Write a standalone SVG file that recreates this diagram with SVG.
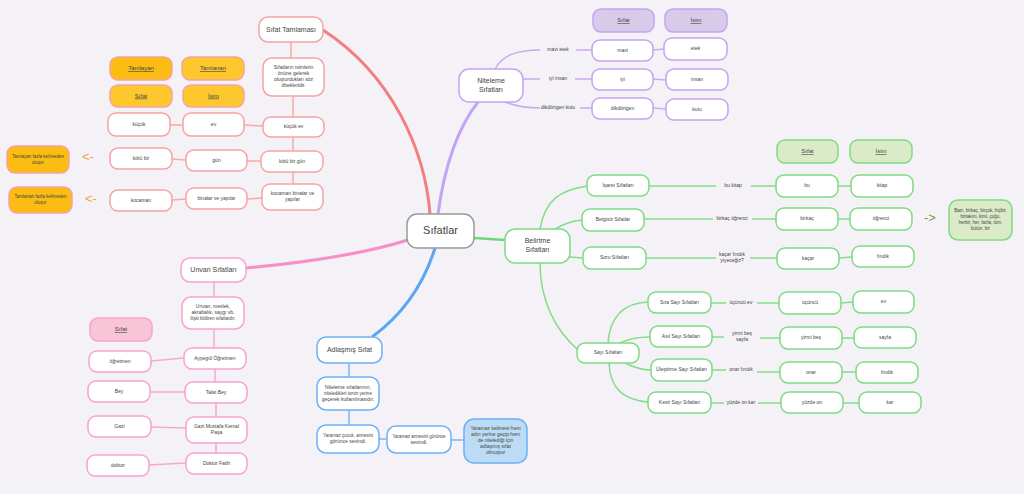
<svg xmlns="http://www.w3.org/2000/svg" width="1024" height="494" viewBox="0 0 1024 494">
<style>
text{font-family:"Liberation Sans","DejaVu Sans",sans-serif;fill:#444;text-anchor:middle;dominant-baseline:middle}
.t7{font-size:7px}.t6{font-size:6px}.t5{font-size:5px}.t45{font-size:4.5px}
.u{text-decoration:underline}
rect{stroke-width:1.5}
.o{fill:#fff;stroke:#f5a3a3}
.oh1{fill:#fbbd14;stroke:#f5a3a3}
.oh2{fill:#fdc82e;stroke:#f5a3a3}
.p{fill:#fff;stroke:#c4a4f1}
.ph{fill:#d8cbe9;stroke:#c4a4f1}
.g{fill:#fff;stroke:#7fda84}
.gh{fill:#dbeac7;stroke:#7fda84}
.k{fill:#fff;stroke:#f7a2cf}
.kh{fill:#f8c5d6;stroke:#f7a2cf}
.b{fill:#fff;stroke:#6cb0f5}
.bh{fill:#bcdcf5;stroke:#6cb0f5}
#connectors path,#connectors line{fill:none}
.co{stroke:#f7aaa9;stroke-width:1.5}
.cp{stroke:#c9aaf3;stroke-width:1.5}
.cg{stroke:#86dc8a;stroke-width:1.5}
.ck{stroke:#f7a8d2;stroke-width:1.5}
.cb{stroke:#7ab8f5;stroke-width:1.5}
</style>
<rect width="1024" height="494" fill="#f4f2f6"/>
<g id="connectors">
<path d="M430,214 C425,150 392,75 323,30" stroke="#f27f7d" stroke-width="3"/>
<path d="M438,214 C444,170 456,130 478,102" stroke="#c6a4f5" stroke-width="3"/>
<path d="M474,238 L505,240" stroke="#6ed876" stroke-width="2.5"/>
<path d="M408,240 C360,255 300,263 246,268" stroke="#f78ec5" stroke-width="3"/>
<path d="M435,248 C422,290 398,318 372,337" stroke="#5aa5f5" stroke-width="3"/>
<line class="co" x1="291" y1="42" x2="291" y2="58"/>
<line class="co" x1="293" y1="96" x2="293" y2="117"/>
<line class="co" x1="293" y1="137" x2="293" y2="151"/>
<line class="co" x1="293" y1="172" x2="293" y2="184"/>
<line class="co" x1="244" y1="125" x2="263" y2="126"/>
<line class="co" x1="170" y1="125" x2="183" y2="125"/>
<line class="co" x1="247" y1="161" x2="261" y2="161"/>
<line class="co" x1="172" y1="159" x2="186" y2="160"/>
<line class="co" x1="247" y1="199" x2="262" y2="198"/>
<line class="co" x1="172" y1="200" x2="186" y2="199"/>
<path class="cp" d="M495,69 C502,56 515,50 540,50"/>
<line class="cp" x1="576" y1="50" x2="592" y2="50"/>
<line class="cp" x1="523" y1="79" x2="540" y2="79"/>
<line class="cp" x1="575" y1="79" x2="592" y2="79"/>
<path class="cp" d="M505,102 C515,106 525,108 540,108"/>
<line class="cp" x1="580" y1="108" x2="592" y2="108"/>
<line class="cp" x1="653" y1="50" x2="664" y2="49"/>
<line class="cp" x1="653" y1="79" x2="666" y2="80"/>
<line class="cp" x1="653" y1="108" x2="666" y2="109"/>
<path class="cg" d="M540,229 C545,200 560,190 587,186"/>
<path class="cg" d="M555,229 C565,223 572,221 582,220"/>
<line class="cg" x1="570" y1="257" x2="583" y2="258"/>
<path class="cg" d="M540,263 C540,300 555,330 578,350"/>
<line class="cg" x1="649" y1="186" x2="716" y2="186"/>
<line class="cg" x1="751" y1="186" x2="776" y2="186"/>
<line class="cg" x1="644" y1="219" x2="713" y2="219"/>
<line class="cg" x1="752" y1="219" x2="776" y2="219"/>
<line class="cg" x1="646" y1="258" x2="716" y2="258"/>
<line class="cg" x1="750" y1="258" x2="777" y2="258"/>
<line class="cg" x1="838" y1="186" x2="851" y2="186"/>
<line class="cg" x1="838" y1="219" x2="850" y2="219"/>
<line class="cg" x1="839" y1="258" x2="852" y2="257"/>
<path class="cg" d="M608,343 C610,315 625,303 648,302"/>
<path class="cg" d="M620,343 C630,338 640,337 650,337"/>
<path class="cg" d="M625,363 C635,368 645,370 651,370"/>
<path class="cg" d="M609,363 C610,390 625,400 648,402"/>
<line class="cg" x1="711" y1="303" x2="726" y2="303"/>
<line class="cg" x1="757" y1="303" x2="779" y2="303"/>
<line class="cg" x1="712" y1="337" x2="724" y2="337"/>
<line class="cg" x1="760" y1="338" x2="780" y2="338"/>
<line class="cg" x1="712" y1="370" x2="726" y2="370"/>
<line class="cg" x1="757" y1="372" x2="780" y2="372"/>
<line class="cg" x1="711" y1="403" x2="724" y2="403"/>
<line class="cg" x1="758" y1="403" x2="781" y2="403"/>
<line class="cg" x1="841" y1="303" x2="853" y2="302"/>
<line class="cg" x1="842" y1="338" x2="854" y2="338"/>
<line class="cg" x1="842" y1="372" x2="856" y2="372"/>
<line class="cg" x1="843" y1="403" x2="859" y2="403"/>
<line class="ck" x1="214" y1="282" x2="214" y2="297"/>
<line class="ck" x1="214" y1="329" x2="214" y2="348"/>
<line class="ck" x1="215" y1="369" x2="215" y2="382"/>
<line class="ck" x1="216" y1="403" x2="216" y2="417"/>
<line class="ck" x1="216" y1="443" x2="216" y2="453"/>
<line class="ck" x1="151" y1="361" x2="184" y2="358"/>
<line class="ck" x1="150" y1="392" x2="185" y2="392"/>
<line class="ck" x1="151" y1="427" x2="186" y2="428"/>
<line class="ck" x1="149" y1="465" x2="186" y2="463"/>
<line class="cb" x1="349" y1="363" x2="349" y2="377"/>
<line class="cb" x1="349" y1="410" x2="349" y2="425"/>
<line class="cb" x1="379" y1="439" x2="387" y2="439"/>
<line class="cb" x1="451" y1="440" x2="464" y2="440"/>
</g>
<g id="center"><rect x="407" y="214" width="67" height="34" rx="10" fill="#fff" stroke="#9a9a9a"/><text x="440.5" y="231.5" font-size="11">Sıfatlar</text></g>

<g id="sifat-tamlamasi"><rect class="o" x="259" y="17" width="64" height="25" rx="9"/><text class="t7" x="291" y="30">Sıfat Tamlaması</text></g>
<g id="tamlama-tanim"><rect class="o" x="263" y="58" width="61" height="38" rx="9"/><text class="t5" x="293.5" y="68">Sıfatların isimlerin</text><text class="t5" x="293.5" y="74">önüne gelerek</text><text class="t5" x="293.5" y="80">oluşturdukları söz</text><text class="t5" x="293.5" y="86">öbekleridir.</text></g>
<g id="h-tamlayan"><rect class="oh1" x="110" y="57" width="62" height="23" rx="8"/><text class="t6 u" x="141" y="68.5">Tamlayan</text></g>
<g id="h-tamlanan"><rect class="oh2" x="182" y="57" width="62" height="23" rx="8"/><text class="t6 u" x="213" y="68.5">Tamlanan</text></g>
<g id="h-sifat-o"><rect class="oh2" x="110" y="85" width="62" height="22" rx="8"/><text class="t6 u" x="141" y="96">Sıfat</text></g>
<g id="h-isim-o"><rect class="oh2" x="183" y="85" width="61" height="22" rx="8"/><text class="t6 u" x="213.5" y="96">İsim</text></g>
<g id="kucuk"><rect class="o" x="108" y="113" width="62" height="23" rx="8"/><text class="t5" x="139" y="124.5">küçük</text></g>
<g id="ev1"><rect class="o" x="183" y="113" width="61" height="23" rx="8"/><text class="t5" x="213.5" y="124.5">ev</text></g>
<g id="kucuk-ev"><rect class="o" x="263" y="117" width="61" height="20" rx="8"/><text class="t5" x="293.5" y="127">küçük ev</text></g>
<g id="kotu-bir"><rect class="o" x="110" y="148" width="62" height="21" rx="8"/><text class="t5" x="141" y="158.5">kötü bir</text></g>
<g id="gun"><rect class="o" x="186" y="150" width="61" height="21" rx="8"/><text class="t5" x="216.5" y="160.5">gün</text></g>
<g id="kotu-bir-gun"><rect class="o" x="261" y="151" width="62" height="21" rx="8"/><text class="t5" x="292" y="161.5">kötü bir gün</text></g>
<g id="kocaman"><rect class="o" x="110" y="190" width="62" height="21" rx="8"/><text class="t5" x="141" y="200.5">kocaman</text></g>
<g id="binalar"><rect class="o" x="186" y="188" width="61" height="21" rx="8"/><text class="t5" x="216.5" y="198.5">binalar ve yapılar</text></g>
<g id="kocaman-binalar"><rect class="o" x="262" y="184" width="61" height="26" rx="8"/><text class="t5" x="292.5" y="194">kocaman binalar ve</text><text class="t5" x="292.5" y="200">yapılar</text></g>
<g id="not-tamlayan"><rect class="oh1" x="7" y="146" width="62" height="27" rx="8"/><text class="t45" x="38" y="156.5">Tamlayan fazla kelimeden</text><text class="t45" x="38" y="162.5">oluşur</text><text x="88" y="158" font-size="13" style="fill:#f5a042">&lt;-</text></g>
<g id="not-tamlanan"><rect class="oh1" x="9" y="187" width="63" height="26" rx="8"/><text class="t45" x="40.5" y="197">Tamlanan fazla kelimeden</text><text class="t45" x="40.5" y="203">oluşur</text><text x="91" y="200" font-size="13" style="fill:#f5a042">&lt;-</text></g>

<g id="niteleme"><rect class="p" x="459" y="69" width="64" height="33" rx="10"/><text class="t7" x="491" y="81.5">Niteleme</text><text class="t7" x="491" y="90.5">Sıfatları</text></g>
<g id="h-sifat-p"><rect class="ph" x="593" y="9" width="61" height="23" rx="8"/><text class="t6 u" x="623.5" y="20.5">Sıfat</text></g>
<g id="h-isim-p"><rect class="ph" x="665" y="9" width="62" height="23" rx="8"/><text class="t6 u" x="696" y="20.5">İsim</text></g>
<text class="t5" x="558" y="50">mavi etek</text>
<text class="t5" x="558" y="79">iyi insan</text>
<text class="t5" x="558" y="108">dikdörtgen kutu</text>
<g id="mavi"><rect class="p" x="592" y="40" width="61" height="21" rx="8"/><text class="t5" x="622.5" y="50.5">mavi</text></g>
<g id="etek"><rect class="p" x="664" y="38" width="63" height="22" rx="8"/><text class="t5" x="695.5" y="49">etek</text></g>
<g id="iyi"><rect class="p" x="592" y="69" width="61" height="21" rx="8"/><text class="t5" x="622.5" y="79.5">iyi</text></g>
<g id="insan"><rect class="p" x="666" y="69" width="62" height="21" rx="8"/><text class="t5" x="697" y="79.5">insan</text></g>
<g id="dikdortgen"><rect class="p" x="592" y="98" width="61" height="21" rx="8"/><text class="t5" x="622.5" y="108.5">dikdörtgen</text></g>
<g id="kutu"><rect class="p" x="666" y="99" width="62" height="21" rx="8"/><text class="t5" x="697" y="109.5">kutu</text></g>

<g id="belirtme"><rect class="g" x="505" y="229" width="65" height="34" rx="10"/><text class="t7" x="537.5" y="241.5">Belirtme</text><text class="t7" x="537.5" y="250.5">Sıfatları</text></g>
<g id="isaret"><rect class="g" x="587" y="175" width="62" height="21" rx="8"/><text class="t5" x="618" y="185.5">İşaret Sıfatları</text></g>
<g id="belgisiz"><rect class="g" x="582" y="209" width="62" height="22" rx="8"/><text class="t5" x="613" y="220">Belgisiz Sıfatlar</text></g>
<g id="soru"><rect class="g" x="583" y="247" width="63" height="22" rx="8"/><text class="t5" x="614.5" y="258">Soru Sıfatları</text></g>
<g id="sayi"><rect class="g" x="577" y="343" width="62" height="20" rx="8"/><text class="t5" x="608" y="353">Sayı Sıfatları</text></g>
<g id="h-sifat-g"><rect class="gh" x="777" y="140" width="61" height="23" rx="8"/><text class="t6 u" x="807.5" y="151.5">Sıfat</text></g>
<g id="h-isim-g"><rect class="gh" x="850" y="140" width="62" height="23" rx="8"/><text class="t6 u" x="881" y="151.5">İsim</text></g>
<text class="t5" x="733" y="186">bu kitap</text>
<text class="t5" x="732" y="219">birkaç öğrenci</text>
<text class="t5" x="732" y="255">kaçar fındık</text>
<text class="t5" x="732" y="261">yiyeceğiz?</text>
<g id="bu"><rect class="g" x="776" y="175" width="62" height="22" rx="8"/><text class="t5" x="807" y="186">bu</text></g>
<g id="kitap"><rect class="g" x="851" y="175" width="62" height="22" rx="8"/><text class="t5" x="882" y="186">kitap</text></g>
<g id="birkac"><rect class="g" x="776" y="208" width="62" height="22" rx="8"/><text class="t5" x="807" y="219">birkaç</text></g>
<g id="ogrenci"><rect class="g" x="850" y="208" width="62" height="22" rx="8"/><text class="t5" x="881" y="219">öğrenci</text></g>
<g id="kacar"><rect class="g" x="777" y="248" width="62" height="21" rx="8"/><text class="t5" x="808" y="258.5">kaçar</text></g>
<g id="findik1"><rect class="g" x="852" y="246" width="62" height="21" rx="8"/><text class="t5" x="883" y="256.5">fındık</text></g>
<g id="belgisiz-not"><text x="930" y="219" font-size="13" style="fill:#7b9a45">-&gt;</text><rect class="gh" x="949" y="200" width="63" height="40" rx="9"/><text class="t45" x="980.5" y="211">Bazı, birkaç, birçok, hiçbir,</text><text class="t45" x="980.5" y="217">birtakım, kimi, çoğu,</text><text class="t45" x="980.5" y="223">herbir, her, fazla, tüm,</text><text class="t45" x="980.5" y="229">bütün, bir</text></g>
<g id="sira"><rect class="g" x="648" y="292" width="63" height="21" rx="8"/><text class="t5" x="679.5" y="302.5">Sıra Sayı Sıfatları</text></g>
<g id="asil"><rect class="g" x="650" y="326" width="62" height="21" rx="8"/><text class="t5" x="681" y="336.5">Asıl Sayı Sıfatları</text></g>
<g id="ulestirme"><rect class="g" x="651" y="359" width="61" height="22" rx="8"/><text class="t5" x="681.5" y="370">Üleştirme Sayı Sıfatları</text></g>
<g id="kesir"><rect class="g" x="648" y="392" width="63" height="21" rx="8"/><text class="t5" x="679.5" y="402.5">Kesir Sayı Sıfatları</text></g>
<text class="t5" x="741" y="303">üçüncü ev</text>
<text class="t5" x="742" y="334">yirmi beş</text>
<text class="t5" x="742" y="340">sayfa</text>
<text class="t5" x="741" y="370">onar fındık</text>
<text class="t5" x="741" y="403">yüzde on kar</text>
<g id="ucuncu"><rect class="g" x="779" y="292" width="62" height="22" rx="8"/><text class="t5" x="810" y="303">üçüncü</text></g>
<g id="ev2"><rect class="g" x="853" y="291" width="61" height="22" rx="8"/><text class="t5" x="883.5" y="302">ev</text></g>
<g id="yirmibes"><rect class="g" x="780" y="327" width="62" height="22" rx="8"/><text class="t5" x="811" y="338">yirmi beş</text></g>
<g id="sayfa"><rect class="g" x="854" y="327" width="62" height="21" rx="8"/><text class="t5" x="885" y="337.5">sayfa</text></g>
<g id="onar"><rect class="g" x="780" y="362" width="62" height="21" rx="8"/><text class="t5" x="811" y="372.5">onar</text></g>
<g id="findik2"><rect class="g" x="856" y="362" width="62" height="21" rx="8"/><text class="t5" x="887" y="372.5">fındık</text></g>
<g id="yuzdeon"><rect class="g" x="781" y="392" width="62" height="21" rx="8"/><text class="t5" x="812" y="402.5">yüzde on</text></g>
<g id="kar"><rect class="g" x="859" y="392" width="62" height="21" rx="8"/><text class="t5" x="890" y="402.5">kar</text></g>

<g id="unvan"><rect class="k" x="181" y="258" width="65" height="24" rx="9"/><text class="t7" x="213.5" y="270">Unvan Sıfatları</text></g>
<g id="unvan-tanim"><rect class="k" x="182" y="297" width="62" height="32" rx="9"/><text class="t5" x="213" y="307">Unvan, meslek,</text><text class="t5" x="213" y="313">akrabalık, saygı vb.</text><text class="t45" x="213" y="319">ilişki bildiren sıfatlardır.</text></g>
<g id="h-sifat-k"><rect class="kh" x="90" y="318" width="62" height="23" rx="8"/><text class="t6 u" x="121" y="329.5">Sıfat</text></g>
<g id="ogretmen"><rect class="k" x="89" y="351" width="62" height="21" rx="8"/><text class="t5" x="120" y="361.5">öğretmen</text></g>
<g id="aysegul"><rect class="k" x="184" y="348" width="62" height="21" rx="8"/><text class="t5" x="215" y="358.5">Ayşegül Öğretmen</text></g>
<g id="bey"><rect class="k" x="88" y="381" width="62" height="21" rx="8"/><text class="t5" x="119" y="391.5">Bey</text></g>
<g id="talat"><rect class="k" x="185" y="382" width="62" height="21" rx="8"/><text class="t5" x="216" y="392.5">Talat Bey</text></g>
<g id="gazi"><rect class="k" x="88" y="416" width="63" height="21" rx="8"/><text class="t5" x="119.5" y="426.5">Gazi</text></g>
<g id="gazi-mk"><rect class="k" x="186" y="417" width="61" height="26" rx="8"/><text class="t5" x="216.5" y="427">Gazi Mustafa Kemal</text><text class="t5" x="216.5" y="433">Paşa</text></g>
<g id="doktor"><rect class="k" x="87" y="455" width="62" height="21" rx="8"/><text class="t5" x="118" y="465.5">doktor</text></g>
<g id="doktor-fatih"><rect class="k" x="186" y="453" width="61" height="21" rx="8"/><text class="t5" x="216.5" y="463.5">Doktor Fatih</text></g>

<g id="adlasmis"><rect class="b" x="317" y="337" width="65" height="26" rx="9"/><text class="t7" x="349.5" y="350">Adlaşmış Sıfat</text></g>
<g id="adlasmis-tanim"><rect class="b" x="317" y="377" width="62" height="33" rx="9"/><text class="t5" x="348" y="387.5">Niteleme sıfatlarının,</text><text class="t45" x="348" y="393.5">niteledikleri ismin yerine</text><text class="t5" x="348" y="399.5">geçerek kullanılmasıdır.</text></g>
<g id="yaramaz-cocuk"><rect class="b" x="317" y="425" width="62" height="28" rx="9"/><text class="t45" x="348" y="436">Yaramaz çocuk, annesini</text><text class="t5" x="348" y="442">görünce sevindi.</text></g>
<g id="yaramaz"><rect class="b" x="387" y="426" width="64" height="27" rx="9"/><text class="t45" x="419" y="436.5">Yaramaz annesini görünce</text><text class="t5" x="419" y="442.5">sevindi.</text></g>
<g id="adlasmis-not"><rect class="bh" x="464" y="419" width="63" height="44" rx="10"/><text class="t5" x="495.5" y="429">Yaramaz kelimesi hem</text><text class="t5" x="495.5" y="435">adın yerine geçip hem</text><text class="t5" x="495.5" y="441">de nitelediği için</text><text class="t5" x="495.5" y="447">adlaşmış sıfat</text><text class="t5" x="495.5" y="453">olmuştur</text></g>
</svg>
